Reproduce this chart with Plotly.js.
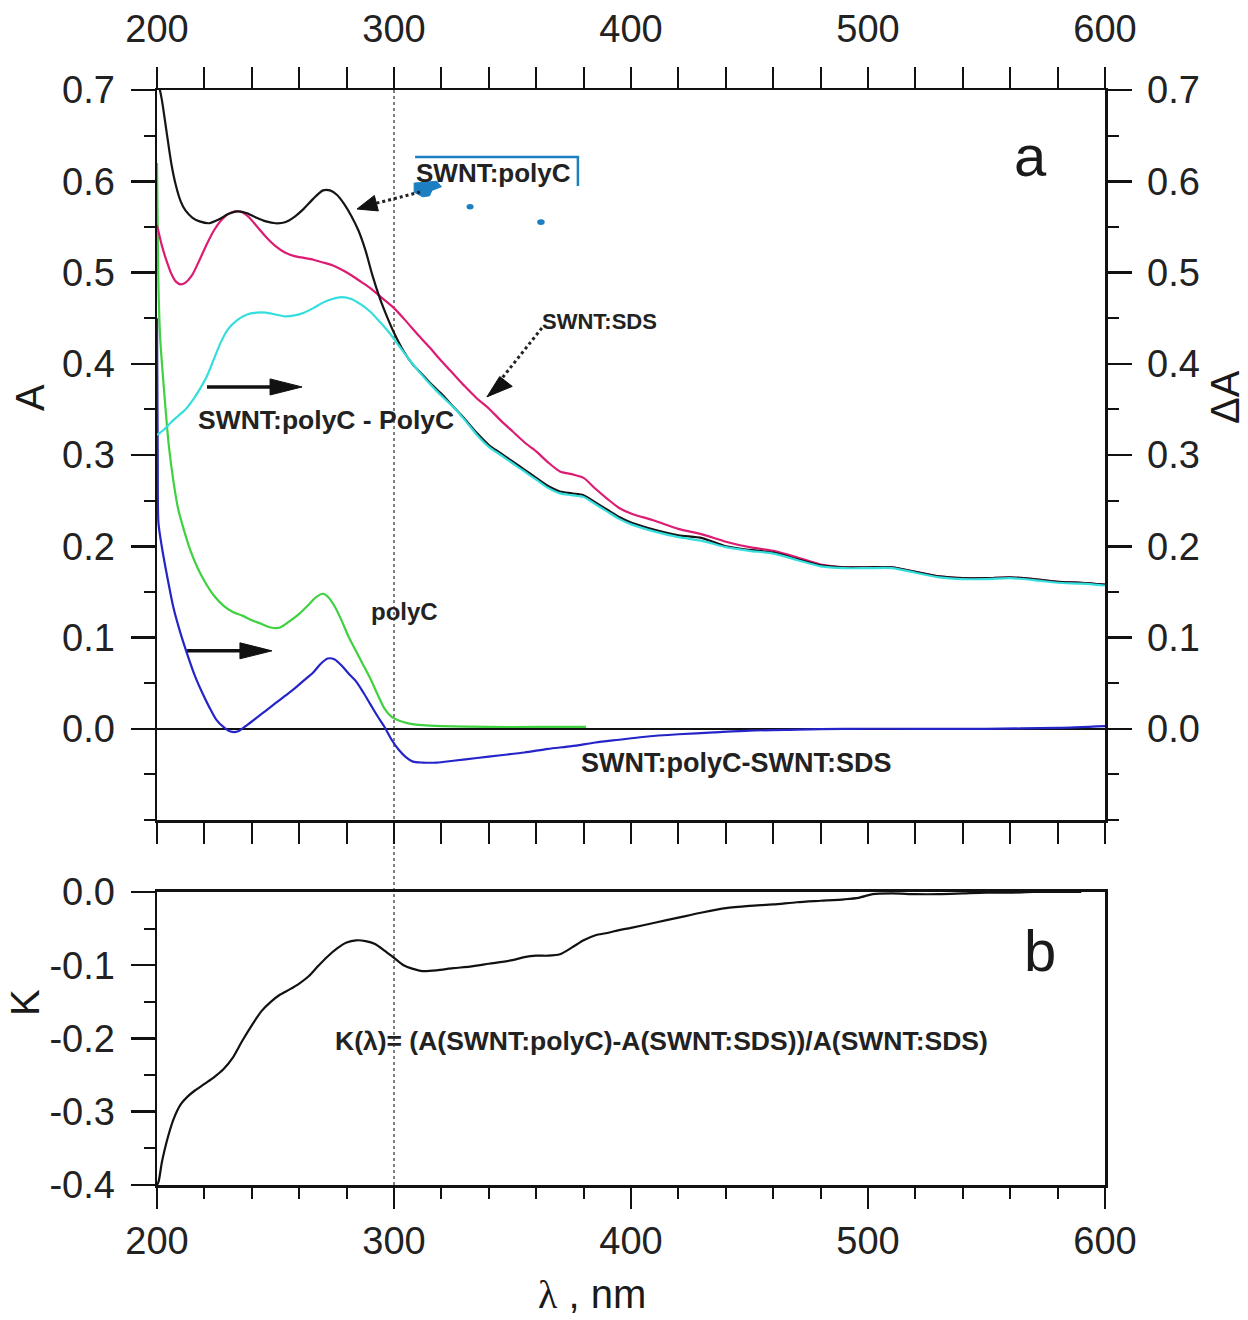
<!DOCTYPE html>
<html>
<head>
<meta charset="utf-8">
<script src="https://cdn.plot.ly/plotly-3.0.1.min.js"></script>
<style>html,body{margin:0;padding:0;background:#fff}</style>
</head>
<body>
<div id="chart" style="width:1248px;height:1320px"></div>
<script>
// ---------------- data ----------------
const lamBlack = [200,202,204,206,208,210,212,215,218,222,226,230,234,238,242,246,250,254,258,262,266,270,273,276,279,282,285,288,291,294,297,300,304,308,312,316,320,325,330,335,340,345,350,355,360,365,370,375,380,385,390,395,400,410,420,430,440,450,460,470,480,490,500,510,520,530,540,550,560,570,580,590,600];
const aBlack = [0.715,0.69,0.655,0.62,0.595,0.578,0.568,0.560,0.556,0.554,0.558,0.564,0.567,0.565,0.560,0.556,0.554,0.555,0.561,0.570,0.581,0.590,0.590,0.585,0.575,0.562,0.546,0.524,0.496,0.472,0.452,0.434,0.414,0.399,0.388,0.377,0.367,0.353,0.339,0.324,0.311,0.302,0.293,0.284,0.275,0.266,0.260,0.258,0.256,0.248,0.240,0.232,0.226,0.218,0.212,0.209,0.200,0.196,0.193,0.186,0.179,0.177,0.177,0.177,0.172,0.167,0.165,0.165,0.166,0.164,0.161,0.160,0.158];

const lamPink = [200,202,204,206,208,210,212,215,218,221,224,227,230,233,236,239,242,246,250,254,258,262,266,270,274,278,282,286,290,295,300,305,310,315,320,325,330,335,340,345,350,355,360,365,370,375,380,385,390,395,400,410,420,430,440,450,460,470,480,490,500,510,520,530,540,550,560,570,580,590,600];
const aPink = [0.552,0.530,0.513,0.499,0.490,0.487,0.489,0.498,0.514,0.531,0.546,0.557,0.564,0.567,0.566,0.560,0.551,0.539,0.529,0.522,0.518,0.516,0.514,0.511,0.508,0.503,0.497,0.490,0.483,0.472,0.461,0.447,0.432,0.418,0.403,0.389,0.375,0.362,0.351,0.338,0.326,0.314,0.304,0.292,0.282,0.279,0.275,0.263,0.252,0.242,0.236,0.228,0.219,0.213,0.205,0.199,0.195,0.188,0.180,0.177,0.177,0.177,0.172,0.167,0.165,0.165,0.166,0.164,0.161,0.160,0.158];

const lamCyan = [200,203,206,209,212,215,218,221,224,227,230,234,238,242,246,250,254,258,262,266,270,274,278,282,286,290,294,298,302,306,310,314,318,322,326,330,335,340,345,350,355,360,365,370,375,380,385,390,395,400,410,420,430,440,450,460,470,480,490,500,510,520,530,540,550,560,570,580,590,600];
const dCyan = [0.322,0.328,0.336,0.343,0.350,0.360,0.372,0.386,0.405,0.424,0.438,0.448,0.454,0.456,0.456,0.454,0.452,0.453,0.456,0.461,0.467,0.471,0.473,0.471,0.465,0.457,0.446,0.434,0.420,0.406,0.393,0.381,0.370,0.360,0.350,0.338,0.322,0.309,0.300,0.291,0.282,0.273,0.264,0.258,0.256,0.254,0.246,0.238,0.230,0.224,0.216,0.210,0.206,0.199,0.195,0.192,0.185,0.178,0.176,0.176,0.176,0.171,0.166,0.164,0.164,0.165,0.163,0.160,0.159,0.157];

const lamGreen = [200,200.5,201.3,203,205,207,209,211,214,217,220,224,228,232,236,240,244,248,252,256,260,264,267,270,272,275,278,281,284,287,290,293,296,299,302,306,312,320,340,360,381];
const aGreen = [0.62,0.50,0.43,0.37,0.31,0.27,0.24,0.221,0.196,0.177,0.162,0.146,0.135,0.128,0.124,0.119,0.115,0.111,0.111,0.118,0.126,0.136,0.144,0.148,0.145,0.134,0.118,0.100,0.085,0.070,0.055,0.038,0.022,0.013,0.009,0.006,0.004,0.003,0.002,0.002,0.002];

const lamBlue = [200,200.3,200.6,202,204,207,210,213,216,219,222,225,228,231,234,238,242,246,250,254,258,262,266,269,272,275,278,281,284,287,290,293,296,299,302,305,308,312,318,325,335,345,355,365,375,385,395,405,420,435,450,470,490,520,550,580,600];
const dBlue = [0.45,0.30,0.226,0.200,0.171,0.132,0.104,0.080,0.058,0.040,0.024,0.010,0.002,-0.003,-0.003,0.004,0.012,0.020,0.028,0.036,0.044,0.053,0.062,0.071,0.077,0.076,0.069,0.060,0.052,0.040,0.027,0.014,0.002,-0.012,-0.023,-0.031,-0.036,-0.037,-0.037,-0.035,-0.032,-0.029,-0.026,-0.022,-0.019,-0.015,-0.012,-0.009,-0.006,-0.004,-0.002,-0.001,0.0,0.0,0.0,0.001,0.003];

const lamK = [200,200.7,202,203,205,207,210,213,216,220,224,228,232,236,240,244,248,252,256,260,264,268,272,276,280,284,288,292,296,300,304,308,312,318,325,332,340,350,355,360,365,370,375,380,385,390,395,400,410,420,430,440,450,460,470,480,490,496,502,510,520,530,540,550,560,570,580,590];
const kVals = [-0.40,-0.395,-0.37,-0.355,-0.330,-0.310,-0.290,-0.279,-0.271,-0.262,-0.253,-0.242,-0.226,-0.203,-0.182,-0.163,-0.150,-0.140,-0.133,-0.125,-0.115,-0.101,-0.088,-0.077,-0.069,-0.066,-0.067,-0.071,-0.080,-0.090,-0.100,-0.105,-0.108,-0.107,-0.104,-0.102,-0.098,-0.093,-0.089,-0.087,-0.087,-0.085,-0.076,-0.066,-0.059,-0.056,-0.052,-0.049,-0.042,-0.035,-0.028,-0.022,-0.019,-0.017,-0.014,-0.012,-0.010,-0.008,-0.003,-0.002,-0.003,-0.003,-0.002,-0.001,-0.001,0.0,0.0,0.0];

const xTickVals = [200,300,400,500,600];
const xTickText = ['200','300','400','500','600'];
const aTickVals = [0,0.1,0.2,0.3,0.4,0.5,0.6,0.7];
const aTickText = ['0.0','0.1','0.2','0.3','0.4','0.5','0.6','0.7'];
const kTickVals = [0,-0.1,-0.2,-0.3,-0.4];
const kTickText = ['0.0','-0.1','-0.2','-0.3','-0.4'];

// ---------------- traces ----------------
const lw = 2.2;
const sm = (color) => ({color:color, width:lw, shape:'spline', smoothing:0.7});
const traces = [
  {x: lamGreen, y: aGreen, xaxis:'x', yaxis:'y', mode:'lines', line:sm('#3fd13f'), name:'polyC'},
  {x: lamBlue, y: dBlue, xaxis:'x', yaxis:'y2', mode:'lines', line:sm('#2424c8'), name:'SWNT:polyC-SWNT:SDS'},
  {x: lamCyan, y: dCyan, xaxis:'x', yaxis:'y2', mode:'lines', line:sm('#35dede'), name:'SWNT:polyC - PolyC'},
  {x: lamPink, y: aPink, xaxis:'x', yaxis:'y', mode:'lines', line:sm('#dc1c72'), name:'SWNT:SDS'},
  {x: lamBlack, y: aBlack, xaxis:'x', yaxis:'y', mode:'lines', line:sm('#151515'), name:'SWNT:polyC'},
  {x: lamK, y: kVals, xaxis:'x3', yaxis:'y3', mode:'lines', line:sm('#111'), name:'K'}
];

// ---------------- layout ----------------
const axCol = '#111';
const FONT = 'Liberation Sans, Arial, sans-serif';
const tickFont = {size:38, color:'#222', family:FONT};
const commonX = {range:[200,600], tickmode:'array', tickvals:xTickVals, ticktext:xTickText,
  ticks:'outside', ticklen:21, tickwidth:2.5, tickcolor:axCol, showline:true, linecolor:axCol, linewidth:2.5,
  showgrid:false, zeroline:false, tickfont:tickFont,
  minor:{dtick:20, tick0:200, ticks:'outside', ticklen:11, tickwidth:2, tickcolor:axCol, showgrid:false}};
const commonA = {range:[-0.1,0.7], tickmode:'array', tickvals:aTickVals, ticktext:aTickText,
  ticks:'outside', ticklen:24, tickwidth:2.5, tickcolor:axCol, showline:true, linecolor:axCol, linewidth:2.5,
  showgrid:false, tickfont:tickFont, ticklabelstandoff:8,
  minor:{dtick:0.05, tick0:0, ticks:'outside', ticklen:11, tickwidth:2, tickcolor:axCol, showgrid:false}};

const lab = (text, x, y, size) => ({text:'<b>'+text+'</b>', x:x, y:y, xref:'x', yref:'y', showarrow:false,
  font:{size:size, color:'#222', family:FONT}, xanchor:'center', yanchor:'middle'});
const pap = (text, x, y, size, angle) => ({text:text, x:x, y:y, xref:'paper', yref:'paper', showarrow:false,
  textangle:angle, xanchor:'center', yanchor:'middle', font:{size:size, color:'#1a1a1a', family:FONT}});

const layout = {
  width:1248, height:1320,
  margin:{l:157, r:143, t:90, b:135, pad:0},
  paper_bgcolor:'#fff', plot_bgcolor:'rgba(0,0,0,0)',
  showlegend:false,
  font:{family:FONT, color:'#222'},
  xaxis: Object.assign({}, commonX, {domain:[0,1], anchor:'y', side:'top', mirror:'allticks', ticklabelstandoff:9}),
  yaxis: Object.assign({}, commonA, {domain:[0.3333,1], anchor:'x', side:'left', zeroline:true, zerolinecolor:axCol, zerolinewidth:2}),
  yaxis2: Object.assign({}, commonA, {overlaying:'y', anchor:'x', side:'right', zeroline:false}),
  xaxis3: Object.assign({}, commonX, {domain:[0,1], anchor:'y3', side:'bottom', mirror:true, ticklabelstandoff:0}),
  yaxis3: {domain:[0,0.2676], anchor:'x3', range:[-0.4,0], tickmode:'array', tickvals:kTickVals, ticktext:kTickText,
    ticks:'outside', ticklen:24, tickwidth:2.5, tickcolor:axCol, showline:true, linecolor:axCol, linewidth:2.5, mirror:true,
    showgrid:false, zeroline:false, tickfont:tickFont, ticklabelstandoff:8,
    minor:{dtick:0.05, tick0:0, ticks:'outside', ticklen:11, tickwidth:2, tickcolor:axCol, showgrid:false}},
  shapes: [
    {type:'line', xref:'x', yref:'paper', x0:300, x1:300, y0:0, y1:1, line:{color:'#555', width:1.5, dash:'dot'}, layer:'below'},
    {type:'path', xref:'x', yref:'y', path:'M 308.9,0.6265 L 377.6,0.6265 L 377.6,0.5947', line:{color:'#1c7fc2', width:2.5}},
    {type:'path', xref:'x', yref:'y', path:'M 308.5,0.598 L 318,0.600 L 320,0.594 L 316,0.590 L 315,0.584 L 312,0.583 L 310,0.586 L 308.5,0.588 Z', fillcolor:'#1c7fc2', line:{color:'#1c7fc2', width:1}},
    {type:'circle', xref:'x', yref:'y', x0:330.6, x1:333.6, y0:0.569, y1:0.575, fillcolor:'#1c7fc2', line:{width:0}},
    {type:'circle', xref:'x', yref:'y', x0:360.4, x1:363.6, y0:0.552, y1:0.5585, fillcolor:'#1c7fc2', line:{width:0}},
    {type:'line', xref:'x', yref:'y', x0:311.0, y0:0.5882, x1:292.6, y1:0.5760, line:{color:'#222', width:3, dash:'dot'}},
    {type:'path', xref:'x', yref:'y', path:'M 284.4,0.5696 L 291.7,0.5844 L 293.4,0.5675 Z', fillcolor:'#111', line:{color:'#111', width:1}},
    {type:'line', xref:'x', yref:'y', x0:362.4, y0:0.4392, x1:344.5, y1:0.3807, line:{color:'#222', width:3, dash:'dot'}},
    {type:'path', xref:'x', yref:'y', path:'M 339.2,0.3637 L 344.6,0.3860 L 349.9,0.3752 Z', fillcolor:'#111', line:{color:'#111', width:1}},
    {type:'line', xref:'x', yref:'y', x0:221.1, y0:0.3746, x1:249, y1:0.3746, line:{color:'#111', width:3.5}},
    {type:'path', xref:'x', yref:'y', path:'M 261.2,0.3746 L 247.7,0.3834 L 247.7,0.3658 Z', fillcolor:'#111', line:{color:'#111', width:1}},
    {type:'line', xref:'x', yref:'y', x0:212.7, y0:0.0854, x1:236, y1:0.0854, line:{color:'#111', width:3.5}},
    {type:'path', xref:'x', yref:'y', path:'M 248.5,0.0854 L 235,0.0942 L 235,0.0767 Z', fillcolor:'#111', line:{color:'#111', width:1}}
  ],
  annotations: [
    lab('SWNT:polyC', 341.8, 0.609, 26),
    lab('SWNT:SDS', 386.9, 0.4458, 22),
    lab('SWNT:polyC - PolyC', 271.3, 0.3384, 26.5),
    lab('polyC', 304.6, 0.128, 24),
    lab('SWNT:polyC-SWNT:SDS', 444.3, -0.0372, 27),
    {text:'<b>K(λ)= (A(SWNT:polyC)-A(SWNT:SDS))/A(SWNT:SDS)</b>', x:412.7, y:-0.2034, xref:'x3', yref:'y3', showarrow:false,
      xanchor:'center', yanchor:'middle', font:{size:26.5, color:'#222', family:FONT}},
    pap('a', 0.921, 0.9406, 58, 0),
    pap('b', 0.931, 0.2146, 58, 0),
    pap('A', -0.134, 0.7196, 40, -90),
    pap('ΔA', 1.1265, 0.7196, 40, -90),
    pap('K', -0.1395, 0.167, 40, -90),
    pap('<span style="font-family:Liberation Serif, serif">λ</span> , nm', 0.459, -0.1, 40, 0)
  ]
};

Plotly.newPlot('chart', traces, layout, {staticPlot:true, displayModeBar:false});
</script>
</body>
</html>
